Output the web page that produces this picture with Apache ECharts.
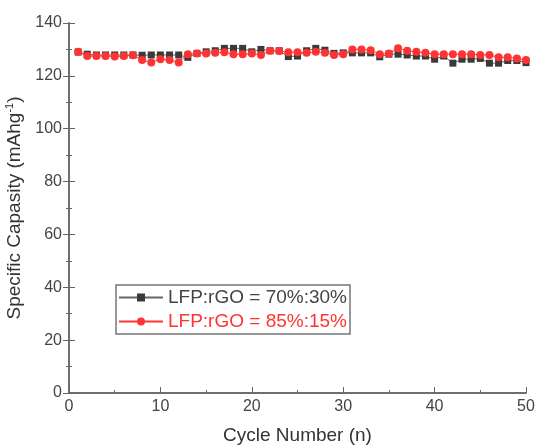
<!DOCTYPE html>
<html>
<head>
<meta charset="utf-8">
<script src="https://cdn.jsdelivr.net/npm/echarts@6/dist/echarts.min.js"></script>
<style>
  html, body { margin: 0; padding: 0; background: #fff; }
  #chart { width: 537px; height: 445px; }
</style>
</head>
<body>
<div id="chart"></div>
<script>
// cycle numbers
var cycles = [1, 2, 3, 4, 5, 6, 7, 8, 9, 10, 11, 12, 13, 14, 15, 16, 17, 18, 19, 20,
  21, 22, 23, 24, 25, 26, 27, 28, 29, 30, 31, 32, 33, 34, 35, 36, 37, 38, 39, 40,
  41, 42, 43, 44, 45, 46, 47, 48, 49, 50]

// LFP:rGO = 70%:30%
var cap7030 = [129.0, 128.2, 127.9, 127.9, 127.9, 127.9, 127.9, 127.8, 127.9, 127.9,
  127.9, 127.9, 127.0, 128.5, 129.1, 129.5, 130.4, 130.4, 130.4, 129.1,
  130.0, 129.5, 129.5, 127.3, 127.5, 129.5, 130.4, 129.7, 128.5, 128.7,
  128.7, 128.7, 128.7, 127.2, 128.2, 128.2, 127.9, 127.5, 127.5, 126.3,
  127.5, 124.8, 126.3, 126.3, 126.6, 124.8, 124.8, 125.8, 125.8, 125.0]

// LFP:rGO = 85%:15%
var cap8515 = [129.1, 127.5, 127.5, 127.5, 127.3, 127.5, 127.8, 126.0, 125.1, 126.3,
  126.0, 125.1, 128.2, 128.5, 128.5, 128.7, 128.9, 128.2, 128.2, 128.5,
  127.9, 129.5, 129.4, 128.9, 128.9, 128.7, 129.1, 128.7, 127.9, 128.2,
  130.0, 130.0, 129.7, 128.2, 128.5, 130.4, 129.5, 129.1, 128.7, 128.2,
  128.2, 128.2, 128.2, 128.2, 127.9, 127.9, 127.0, 127.0, 126.6, 126.0]

var seriesNames = ['LFP:rGO = 70%:30%', 'LFP:rGO = 85%:15%']

function pairs(ys) {
  return cycles.map(function (c, i) { return [c, ys[i]] })
}

var axisColor = '#666'
var labelColor = '#444'
var font = 'Liberation Sans, Arial, sans-serif'

var chart = echarts.init(document.getElementById('chart'))

var option = {
  backgroundColor: '#fff',
  animation: false,
  grid: { left: 69, right: 11, top: 23, bottom: 52, outerBoundsMode: 'none' },
  legend: {
    left: 116,
    top: 285,
    orient: 'vertical',
    itemWidth: 44,
    itemHeight: 10,
    itemGap: 5,
    padding: [3, 3, 3, 2],
    borderColor: '#777',
    borderWidth: 1.5,
    textStyle: { fontFamily: font, fontSize: 19 },
    data: [
      { name: seriesNames[0], textStyle: { color: '#444' } },
      { name: seriesNames[1], textStyle: { color: '#ff3333' } }
    ]
  },
  xAxis: [
    {
      type: 'value',
      min: 0,
      max: 50,
      interval: 10,
      name: 'Cycle Number (n)',
      nameLocation: 'middle',
      nameGap: 33,
      nameTextStyle: { color: '#333', fontFamily: font, fontSize: 19 },
      axisLine: { lineStyle: { color: axisColor, width: 1.5 } },
      axisTick: { inside: true, length: 6, lineStyle: { color: axisColor } },
      minorTick: { show: true, splitNumber: 2, length: 3, lineStyle: { color: axisColor } },
      axisLabel: { color: labelColor, fontFamily: font, fontSize: 16, margin: 6 },
      splitLine: { show: false }
    },
    {
      type: 'value',
      position: 'top',
      min: 0,
      max: 50,
      interval: 10,
      axisLine: { show: true, lineStyle: { color: axisColor, width: 1.5 } },
      axisTick: { show: false },
      axisLabel: { show: false },
      splitLine: { show: false }
    }
  ],
  yAxis: [
    {
      type: 'value',
      min: 0,
      max: 140,
      interval: 20,
      name: 'Specific Capasity (mAhg{sup|-1})',
      nameLocation: 'middle',
      nameGap: 37,
      nameTextStyle: {
        color: '#333', fontFamily: font, fontSize: 19,
        rich: { sup: { fontSize: 11, verticalAlign: 'top', color: '#333', fontFamily: font, padding: [0, 0, 9, 0] } }
      },
      axisLine: { show: true, lineStyle: { color: axisColor, width: 1.5 } },
      axisTick: { inside: true, length: 6, lineStyle: { color: axisColor } },
      minorTick: { show: true, splitNumber: 2, length: 3, lineStyle: { color: axisColor } },
      axisLabel: { color: labelColor, fontFamily: font, fontSize: 16, margin: 7 },
      splitLine: { show: false }
    },
    {
      type: 'value',
      position: 'right',
      min: 0,
      max: 140,
      interval: 20,
      axisLine: { show: true, lineStyle: { color: axisColor, width: 1.5 } },
      axisTick: { inside: true, length: 6, lineStyle: { color: axisColor } },
      minorTick: { show: true, splitNumber: 2, length: 3, lineStyle: { color: axisColor } },
      axisLabel: { show: false },
      splitLine: { show: false }
    }
  ],
  series: [
    {
      name: seriesNames[0],
      type: 'line',
      data: pairs(cap7030),
      symbol: 'rect',
      symbolSize: 7,
      itemStyle: { color: '#3a3a3a' },
      lineStyle: { color: '#666', width: 1 },
      z: 2
    },
    {
      name: seriesNames[1],
      type: 'line',
      data: pairs(cap8515),
      symbol: 'circle',
      symbolSize: 8,
      itemStyle: { color: '#ff3333' },
      lineStyle: { color: '#ff3333', width: 1 },
      z: 3
    }
  ]
}

chart.setOption(option)
</script>
</body>
</html>
